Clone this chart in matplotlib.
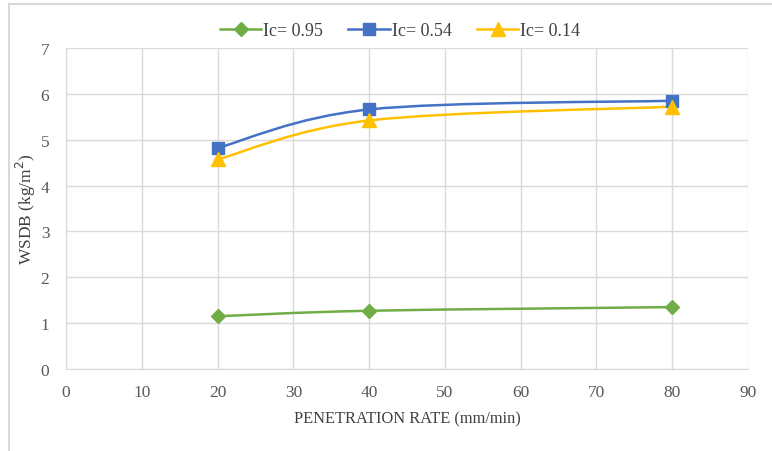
import numpy as np
import matplotlib

matplotlib.use('Agg')
import matplotlib.pyplot as plt
from matplotlib.path import Path
from matplotlib.patches import PathPatch
from matplotlib.lines import Line2D

rate = [20, 40, 80]
wsdb_095 = [1.15, 1.27, 1.35]
wsdb_054 = [4.82, 5.66, 5.85]
wsdb_014 = [4.57, 5.42, 5.72]
labels = ['Ic= 0.95', 'Ic= 0.54', 'Ic= 0.14']
x_ticks = list(range(0, 91, 10))
y_ticks = list(range(0, 8))


def smooth_path(xs, ys):
    # Excel 風の滑らかな線（Bezier 曲線）
    pts = np.column_stack([xs, ys]).astype(float)
    ext = np.vstack([pts[0], pts, pts[-1]])
    verts = [pts[0]]
    codes = [Path.MOVETO]
    for i in range(len(pts) - 1):
        p0, p1, p2, p3 = ext[i], ext[i + 1], ext[i + 2], ext[i + 3]
        verts += [p1 + (p2 - p0) / 6, p2 - (p3 - p1) / 6, p2]
        codes += [Path.CURVE4] * 3
    return Path(verts, codes)


def main():
    plt.rcParams['font.family'] = ['Liberation Serif', 'DejaVu Serif']
    fig = plt.figure(figsize=(7.72, 4.52), dpi=100)
    ax = fig.add_axes([66 / 772, 1 - 370 / 452, (748 - 66) / 772, (370 - 49) / 452])

    series = [(wsdb_095, '#70AD47', 'D', 7), (wsdb_054, '#4472C4', 's', 9), (wsdb_014, '#FFC000', '^', 9.5)]
    handles = []
    for (ys, color, marker, ms), label in zip(series, labels):
        ax.add_patch(PathPatch(smooth_path(rate, ys), facecolor='none', edgecolor=color, lw=1.8,
                               transform=ax.transData, zorder=3))
        ax.plot(rate, ys, linestyle='none', marker=marker, markersize=ms, color=color, zorder=4)
        handles.append(Line2D([], [], color=color, lw=1.8, marker=marker, markersize=ms, label=label))

    ax.set_xlim(0, 90)
    ax.set_ylim(0, 7)
    ax.set_xticks(x_ticks)
    ax.set_yticks(y_ticks)
    ax.grid(True, color='#D9D9D9', lw=1)
    ax.set_axisbelow(True)
    ax.tick_params(length=0, labelsize=12.5, colors='#595959')
    ax.tick_params(axis='x', pad=11)
    ax.tick_params(axis='y', pad=12)
    for side in ['top', 'right']:
        ax.spines[side].set_visible(False)
    for side in ['left', 'bottom']:
        ax.spines[side].set_color('#D9D9D9')
    ax.set_xlabel('PENETRATION RATE (mm/min)', fontsize=11.8, color='#404040', labelpad=7)
    ax.set_ylabel('WSDB (kg/m$^2$)', fontsize=12.5, color='#404040')
    ax.yaxis.set_label_coords(-28 / 682, 0.5)

    fig.legend(handles=handles, loc='center', bbox_to_anchor=(400 / 772, 1 - 32 / 452), ncol=3,
               frameon=False, fontsize=13, handlelength=2.3, columnspacing=1.4, handletextpad=0.1,
               labelcolor='#404040')

    # 外枠
    fig.add_artist(Line2D([9 / 772, 9 / 772], [0, 1 - 5 / 452], color='#D9D9D9', lw=1.5))
    fig.add_artist(Line2D([9 / 772, 1], [1 - 5 / 452, 1 - 5 / 452], color='#D9D9D9', lw=1.5))

    fig.savefig('out.png', dpi=100)


if __name__ == '__main__':
    main()
